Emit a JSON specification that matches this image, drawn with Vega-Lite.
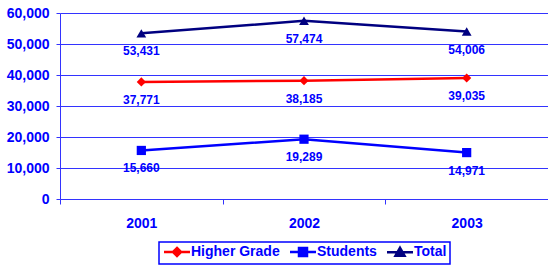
{
  "$schema": "https://vega.github.io/schema/vega-lite/v6.json",
  "width": 488,
  "height": 186,
  "autosize": {"type": "none"},
  "padding": {"left": 60, "top": 13, "right": 0, "bottom": 73},
  "background": "white",
  "config": {
    "view": {"stroke": null},
    "font": "Liberation Sans",
    "axis": {"labelFont": "Liberation Sans", "labelFontWeight": "bold", "labelFontSize": 14, "labelColor": "#0000FF", "domainColor": "#3333FF", "tickColor": "#3333FF", "gridColor": "#3333FF", "title": null}
  },
  "data": {
    "values": [
      {"year": "2001", "series": "Higher Grade", "value": 37771},
      {"year": "2002", "series": "Higher Grade", "value": 38185},
      {"year": "2003", "series": "Higher Grade", "value": 39035},
      {"year": "2001", "series": "Students", "value": 15660},
      {"year": "2002", "series": "Students", "value": 19289},
      {"year": "2003", "series": "Students", "value": 14971},
      {"year": "2001", "series": "Total", "value": 53431},
      {"year": "2002", "series": "Total", "value": 57474},
      {"year": "2003", "series": "Total", "value": 54006}
    ]
  },
  "encoding": {
    "x": {
      "field": "year", "type": "ordinal",
      "scale": {"type": "band", "paddingInner": 0, "paddingOuter": 0},
      "axis": {"labelAngle": 0, "tickBand": "extent", "tickSize": 5, "labelPadding": 12, "domain": true, "grid": false}
    },
    "y": {
      "field": "value", "type": "quantitative",
      "scale": {"domain": [0, 60000], "nice": false},
      "axis": {"values": [0, 10000, 20000, 30000, 40000, 50000, 60000], "format": ",d", "tickSize": 4, "labelPadding": 7, "grid": true, "domain": true}
    },
    "color": {
      "field": "series", "type": "nominal",
      "scale": {"domain": ["Higher Grade", "Students", "Total"], "range": ["#FF0000", "#0000FF", "#000080"]},
      "legend": {
        "title": null, "orient": "none", "legendX": 99, "legendY": 229, "direction": "horizontal",
        "padding": 3, "strokeColor": "#0000FF",
        "labelFont": "Liberation Sans", "labelFontWeight": "bold", "labelFontSize": 14, "labelColor": "#0000FF",
        "labelOffset": 15, "columnPadding": 5, "symbolSize": 100,
        "encode": {
          "legend": {"update": {"strokeWidth": {"value": 1.5}}},
          "symbols": {
            "update": {
              "shape": {"signal": "datum.value === 'Higher Grade' ? 'M-1,0H4.2M1.6,-0.8L2.4,0L1.6,0.8L0.8,0Z' : datum.value === 'Students' ? 'M-1,0H4.2M0.8,-0.8H2.4V0.8H0.8Z' : 'M-1,0H4.2M1.6,-0.9L2.5,0.7L0.7,0.7Z'"},
              "fill": {"signal": "datum.value === 'Higher Grade' ? '#FF0000' : datum.value === 'Students' ? '#0000FF' : '#000080'"},
              "stroke": {"signal": "datum.value === 'Higher Grade' ? '#FF0000' : datum.value === 'Students' ? '#0000FF' : '#000080'"},
              "strokeWidth": {"value": 2.5},
              "opacity": {"value": 1}
            }
          }
        }
      }
    }
  },
  "layer": [
    {
      "mark": {"type": "line", "strokeWidth": 2.5}
    },
    {
      "transform": [{"filter": "datum.series === 'Higher Grade'"}],
      "mark": {"type": "point", "filled": true, "opacity": 1, "shape": "diamond", "size": 85}
    },
    {
      "transform": [{"filter": "datum.series === 'Students'"}],
      "mark": {"type": "point", "filled": true, "opacity": 1, "shape": "square", "size": 85}
    },
    {
      "transform": [{"filter": "datum.series === 'Total'"}],
      "mark": {"type": "point", "filled": true, "opacity": 1, "shape": "triangle-up", "size": 95}
    },
    {
      "mark": {"type": "text", "baseline": "top", "dy": 13, "font": "Liberation Sans", "fontWeight": "bold", "fontSize": 12},
      "encoding": {
        "text": {"field": "value", "type": "quantitative", "format": ",d"},
        "color": {"value": "#0000FF"}
      }
    }
  ]
}
